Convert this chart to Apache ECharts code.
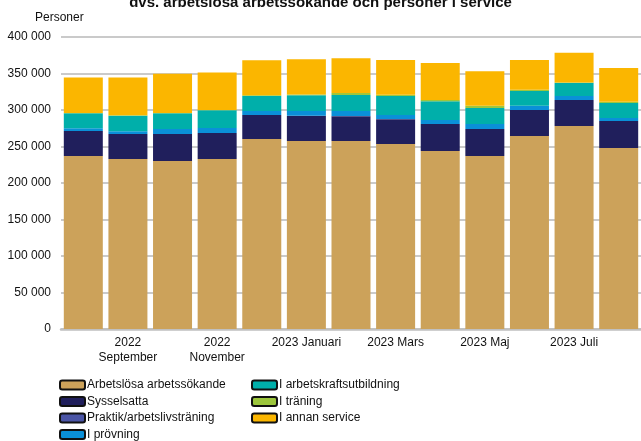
<!DOCTYPE html>
<html>
<head>
<meta charset="utf-8">
<script src="https://cdn.jsdelivr.net/npm/echarts@6/dist/echarts.min.js"></script>
<style>
  html, body { margin: 0; padding: 0; background: #fff; }
  #chart { width: 641px; height: 441px; }
</style>
</head>
<body>
<div id="chart"></div>
<script>
const categories = ['2022 Augusti', '2022 September', '2022 Oktober', '2022 November', '2022 December',
  '2023 Januari', '2023 Februari', '2023 Mars', '2023 April', '2023 Maj', '2023 Juni', '2023 Juli', '2023 Augusti'];
const tickLabels = ['', '2022\nSeptember', '', '2022\nNovember', '', '2023 Januari', '', '2023 Mars', '', '2023 Maj', '', '2023 Juli', ''];

const arbetslosa  = [237000, 232900, 230100, 232900, 260300, 257500, 257500, 253400, 243800, 237000, 264400, 278100, 247900];
const sysselsatta = [34100, 34100, 36900, 35500, 32800, 34600, 34100, 34100, 36900, 36900, 35500, 35500, 36900];
const praktik     = [100, 100, 100, 100, 100, 100, 100, 100, 100, 100, 100, 100, 100];
const provning    = [3700, 3700, 6800, 6800, 5500, 6400, 6800, 5500, 5500, 6800, 5900, 5500, 4100];
const arbetskraft = [20500, 21400, 21500, 24200, 20500, 21500, 21900, 26000, 25600, 21900, 20100, 17800, 20500];
const traning     = [600, 600, 600, 600, 1000, 1000, 3000, 1800, 1800, 3000, 1800, 600, 1800];
const annan       = [48400, 51600, 53600, 51100, 47900, 48400, 47500, 47500, 50700, 47500, 40700, 40700, 46100];

const yTicks = { min: 0, max: 400000, interval: 50000 };

const seriesDefs = [
  { name: 'Arbetslösa arbetssökande', data: arbetslosa, color: '#CCA25A' },
  { name: 'Sysselsatta', data: sysselsatta, color: '#201F5C' },
  { name: 'Praktik/arbetslivsträning', data: praktik, color: '#4B55A6' },
  { name: 'I prövning', data: provning, color: '#0A90D8' },
  { name: 'I arbetskraftsutbildning', data: arbetskraft, color: '#00AFAA' },
  { name: 'I träning', data: traning, color: '#9CC63C' },
  { name: 'I annan service', data: annan, color: '#FBB600' }
];

const fontFam = '"Liberation Sans", Arial, sans-serif';
const legendCommon = {
  orient: 'vertical',
  icon: 'roundRect',
  itemWidth: 25,
  itemHeight: 9,
  itemGap: 2.5,
  padding: 0,
  height: 80,
  selectedMode: false,
  textStyle: { fontFamily: fontFam, fontSize: 12, color: '#111', lineHeight: 14, padding: [0, 0, 0, -3] },
  itemStyle: { borderColor: '#111', borderWidth: 2 }
};

const chart = echarts.init(document.getElementById('chart'), null, { renderer: 'canvas' });
chart.setOption({
  animation: false,
  backgroundColor: '#fff',
  title: {
    text: 'dvs. arbetslösa arbetssökande och personer i service',
    left: 'center',
    top: -10,
    textStyle: { fontFamily: fontFam, fontSize: 15, fontWeight: 'bold', color: '#111' }
  },
  graphic: [{
    type: 'text', left: 35, top: 12,
    style: { text: 'Personer', font: '12px "Liberation Sans", Arial, sans-serif', fill: '#111' }
  }],
  legend: [
    Object.assign({}, legendCommon, { left: 59, top: 378, data: seriesDefs.slice(0, 4).map(s => s.name) }),
    Object.assign({}, legendCommon, { left: 251, top: 378, data: seriesDefs.slice(4).map(s => s.name) })
  ],
  grid: { left: 61, top: 37, width: 585, height: 292, containLabel: false },
  xAxis: {
    type: 'category',
    data: categories,
    axisTick: { show: false },
    axisLine: { show: true, lineStyle: { color: '#C0C0C0', width: 2.5 } },
    axisLabel: {
      interval: 0,
      fontFamily: fontFam, fontSize: 12, color: '#111', lineHeight: 15, margin: 6,
      formatter: (v, i) => tickLabels[i]
    }
  },
  yAxis: {
    type: 'value',
    min: yTicks.min, max: yTicks.max, interval: yTicks.interval,
    axisLine: { show: false },
    axisTick: { show: false },
    splitLine: { lineStyle: { color: '#CACACA', width: 2 } },
    axisLabel: {
      fontFamily: fontFam, fontSize: 12, color: '#111', margin: 10,
      formatter: v => String(v).replace(/\B(?=(\d{3})+(?!\d))/g, ' ')
    }
  },
  series: seriesDefs.map(s => ({
    name: s.name,
    type: 'bar',
    stack: 'total',
    data: s.data,
    barWidth: 39,
    itemStyle: { color: s.color },
    emphasis: { disabled: true }
  }))
});
</script>
</body>
</html>
